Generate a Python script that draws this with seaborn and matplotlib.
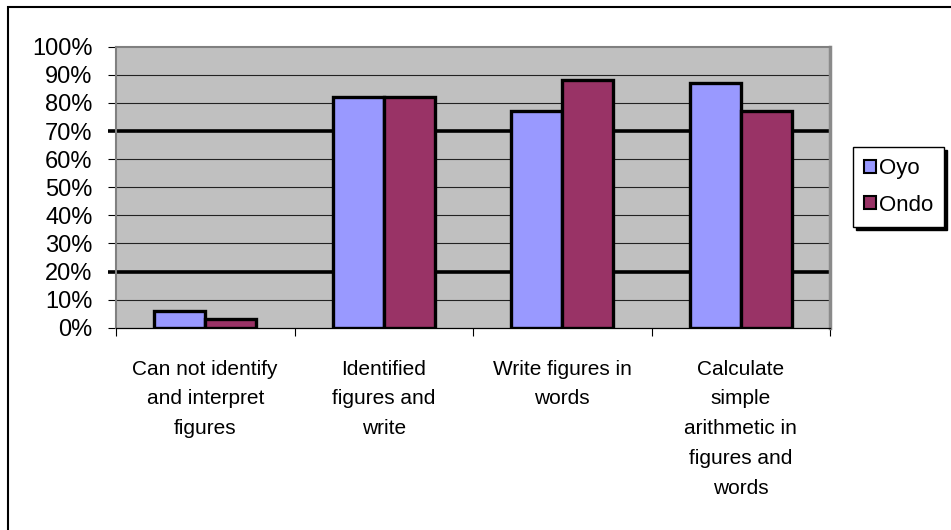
import numpy as np
import pandas as pd
import matplotlib
matplotlib.use("Agg")
import matplotlib.pyplot as plt
from matplotlib.patches import Patch, Rectangle
from matplotlib.ticker import PercentFormatter, FixedLocator
import seaborn as sns

sns.set_style("white")
plt.rcParams['font.family'] = ['Liberation Sans', 'DejaVu Sans']
plt.rcParams['text.color'] = 'black'
plt.rcParams['xtick.color'] = 'black'
plt.rcParams['ytick.color'] = 'black'

# Data
categories = [
    "Can not identify\nand interpret\nfigures",
    "Identified\nfigures and\nwrite",
    "Write figures in\nwords",
    "Calculate\nsimple\narithmetic in\nfigures and\nwords",
]
oyo = [6, 82, 77, 87]
ondo = [3, 82, 88, 77]
regions = ["Oyo", "Ondo"]
colors = ["#9999FF", "#993366"]

df = pd.DataFrame({
    "Category": categories * 2,
    "Region": ["Oyo"] * 4 + ["Ondo"] * 4,
    "Value": oyo + ondo,
})

fig = plt.figure(figsize=(9.51, 5.30), dpi=100)
ax = fig.add_axes([116 / 951, 1 - 327.7 / 530, 714 / 951, 281 / 530])
ax.set_facecolor("#C0C0C0")

sns.barplot(data=df, x="Category", y="Value", hue="Region", palette=colors,
            width=0.57, edgecolor="black", linewidth=2.4, saturation=1,
            legend=False, ax=ax)

ax.set_xlim(-0.5, 3.5)
ax.set_ylim(0, 100)
ax.set_xlabel("")
ax.set_ylabel("")

# y axis
ax.yaxis.set_major_locator(FixedLocator(np.arange(0, 101, 10)))
ax.yaxis.set_major_formatter(PercentFormatter(decimals=0))
ax.tick_params(axis="y", which="major", direction="out", length=6, width=0.8,
               color="black", labelcolor="black", labelsize=17, pad=11, left=True)
ax.set_axisbelow(True)
ax.yaxis.grid(True, color="#222222", linewidth=0.8)
for val, gl, tk in zip(np.arange(0, 101, 10), ax.get_ygridlines(), ax.yaxis.get_major_ticks()):
    if val in (20, 70):
        gl.set_linewidth(2.6)
        gl.set_color("black")
        tk.tick1line.set_markeredgewidth(2.6)
    if val in (0, 100):
        gl.set_visible(False)

# x axis: ticks on category boundaries
ax.set_xticks(range(len(categories)))
ax.set_xticklabels(categories, fontsize=15, linespacing=1.72, va="top")
ax.tick_params(axis="x", which="major", length=0, pad=23, labelcolor="black")
ax.set_xticks(np.arange(-0.5, 4, 1), minor=True)
ax.tick_params(axis="x", which="minor", direction="out", length=6, width=0.8,
               color="black", bottom=True)

for side in ["top", "left"]:
    ax.spines[side].set_color("#808080")
    ax.spines[side].set_linewidth(1.5)
ax.spines["right"].set_color("#8a8a8a")
ax.spines["right"].set_linewidth(2.5)
ax.spines["bottom"].set_color("black")
ax.spines["bottom"].set_linewidth(0.9)

# legend
handles = [Patch(facecolor=c, edgecolor="black", linewidth=1.5, label=r)
           for c, r in zip(colors, regions)]
leg = fig.legend(handles=handles, loc="upper left",
                 bbox_to_anchor=(853 / 951, 1 - 147 / 530),
                 frameon=True, fancybox=False, edgecolor="black", fontsize=16,
                 handlelength=0.55, handleheight=0.55, handletextpad=0.1,
                 borderpad=0.5, labelspacing=0.7, borderaxespad=0,
                 shadow={"color": "black", "alpha": 1, "ox": 2, "oy": -2})
for t in leg.get_texts():
    t.set_color("black")

# outer chart frame
fig.patches.append(Rectangle((8 / 951, -0.1), 1.2, 1.1 - 7 / 530,
                             transform=fig.transFigure, fill=False,
                             edgecolor="black", linewidth=1.5))

fig.savefig("out.png", dpi=100)
